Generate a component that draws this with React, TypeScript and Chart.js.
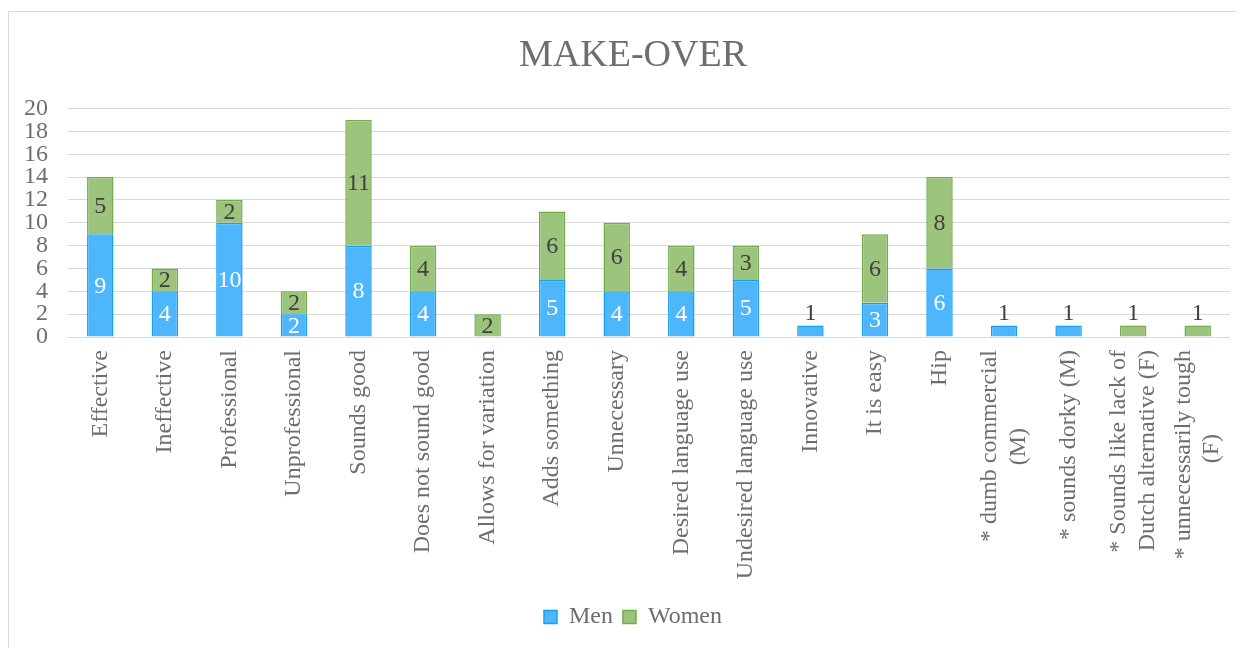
import { useEffect, useRef } from "react";
import { Chart, registerables } from "chart.js";

Chart.register(...registerables);

const chartTitle = "MAKE-OVER";
const categories: (string | string[])[] = [
  "Effective",
  "Ineffective",
  "Professional",
  "Unprofessional",
  "Sounds good",
  "Does not sound good",
  "Allows for variation",
  "Adds something",
  "Unnecessary",
  "Desired language use",
  "Undesired language use",
  "Innovative",
  "It is easy",
  "Hip",
  ["* dumb commercial", "(M)" + " ".repeat(13)],
  "* sounds dorky (M)",
  ["* Sounds like lack of", "Dutch alternative (F)"],
  ["* unnecessarily tough", "(F)" + " ".repeat(14)],
];
const seriesNames = ["Men", "Women"];
const menValues = [9, 4, 10, 2, 8, 4, 0, 5, 4, 4, 5, 1, 3, 6, 1, 1, 0, 0];
const womenValues = [5, 2, 2, 2, 11, 4, 2, 6, 6, 4, 3, 0, 6, 8, 0, 0, 1, 1];
const yMin = 0;
const yMax = 20;
const yStep = 2;

const FONT = "'Liberation Serif', 'Times New Roman', serif";
const TEXT = "#6e6e6e";
const TICK_SIZE = 24;

const valueLabelPlugin = {
  id: "valueLabels",
  afterDatasetsDraw(chart: any) {
    const ctx = chart.ctx;
    ctx.save();
    ctx.font = `24px ${FONT}`;
    ctx.textAlign = "center";
    ctx.textBaseline = "middle";
    chart.data.datasets.forEach((ds: any, di: number) => {
      const meta = chart.getDatasetMeta(di);
      meta.data.forEach((bar: any, i: number) => {
        const v = ds.data[i];
        if (v == null || v === 0) return;
        const h = Math.abs(bar.base - bar.y);
        if (h >= 20) {
          ctx.fillStyle = di === 0 ? "#ffffff" : "#404040";
          ctx.fillText(String(v), bar.x, (bar.y + bar.base) / 2 + 1);
        } else {
          ctx.fillStyle = "#404040";
          ctx.fillText(String(v), bar.x, bar.y - 12);
        }
      });
    });
    ctx.restore();
  },
};

// centre multi-line rotated category labels on their tick
const centerMultiLinePlugin = {
  id: "centerMultiLine",
  beforeDraw(chart: any) {
    const s = chart.scales.x;
    if (!s) return;
    const items = s.getLabelItems();
    items.forEach((item: any) => {
      if (item._centered) return;
      if (Array.isArray(item.label) && item.label.length > 1) {
        item.options.translation[0] -= ((item.label.length - 1) * TICK_SIZE * 1.2) / 2;
      }
      item._centered = true;
    });
  },
};

export default function App() {
  const ref = useRef<HTMLCanvasElement>(null);
  useEffect(() => {
    if (!ref.current) return;
    const toData = (arr: number[]) => arr.map((v) => (v === 0 ? null : v));
    const chart = new Chart(ref.current, {
      type: "bar",
      data: {
        labels: categories,
        datasets: [
          {
            label: seriesNames[0],
            data: toData(menValues),
            backgroundColor: "#4db6fc",
            borderColor: "#16a0f5",
            borderWidth: 1.5,
            categoryPercentage: 1,
            barPercentage: 0.41,
          },
          {
            label: seriesNames[1],
            data: toData(womenValues),
            backgroundColor: "#9cc47c",
            borderColor: "#72ad4a",
            borderWidth: 1.5,
            categoryPercentage: 1,
            barPercentage: 0.41,
          },
        ],
      },
      options: {
        animation: false,
        responsive: true,
        maintainAspectRatio: false,
        layout: { padding: { left: 8, right: 0, top: 0, bottom: 33 } },
        plugins: {
          title: {
            display: true,
            text: chartTitle,
            color: TEXT,
            font: { family: FONT, size: 38, weight: "normal" },
            padding: { top: 21, bottom: 30 },
          },
          legend: {
            position: "bottom",
            labels: {
              color: TEXT,
              font: { family: FONT, size: 24 },
              boxWidth: 13,
              boxHeight: 13,
              padding: 10,
            },
          },
          tooltip: { enabled: false },
        },
        scales: {
          x: {
            stacked: true,
            grid: { display: false, drawTicks: false },
            border: { display: false },
            ticks: {
              color: TEXT,
              font: { family: FONT, size: TICK_SIZE },
              maxRotation: 90,
              minRotation: 90,
              autoSkip: false,
              padding: 13,
            },
            afterFit: (s: any) => {
              s.height = 258;
              s.paddingLeft = 0;
              s.paddingRight = 19;
            },
          },
          y: {
            stacked: true,
            min: yMin,
            max: yMax,
            grid: { color: "#d9d9d9", lineWidth: 1, drawTicks: false },
            border: { display: false },
            ticks: {
              stepSize: yStep,
              autoSkip: false,
              color: TEXT,
              font: { family: FONT, size: TICK_SIZE },
              padding: 20,
            },
            afterFit: (s: any) => {
              s.width = 51;
            },
          },
        },
      },
      plugins: [valueLabelPlugin, centerMultiLinePlugin],
    });
    return () => chart.destroy();
  }, []);

  return (
    <div style={{ paddingTop: 3 }}>
      <div
        style={{
          position: "relative",
          width: 1240,
          height: 660,
          border: "1px solid #d9d9d9",
          background: "#fff",
        }}
      >
        <canvas ref={ref} />
      </div>
    </div>
  );
}
